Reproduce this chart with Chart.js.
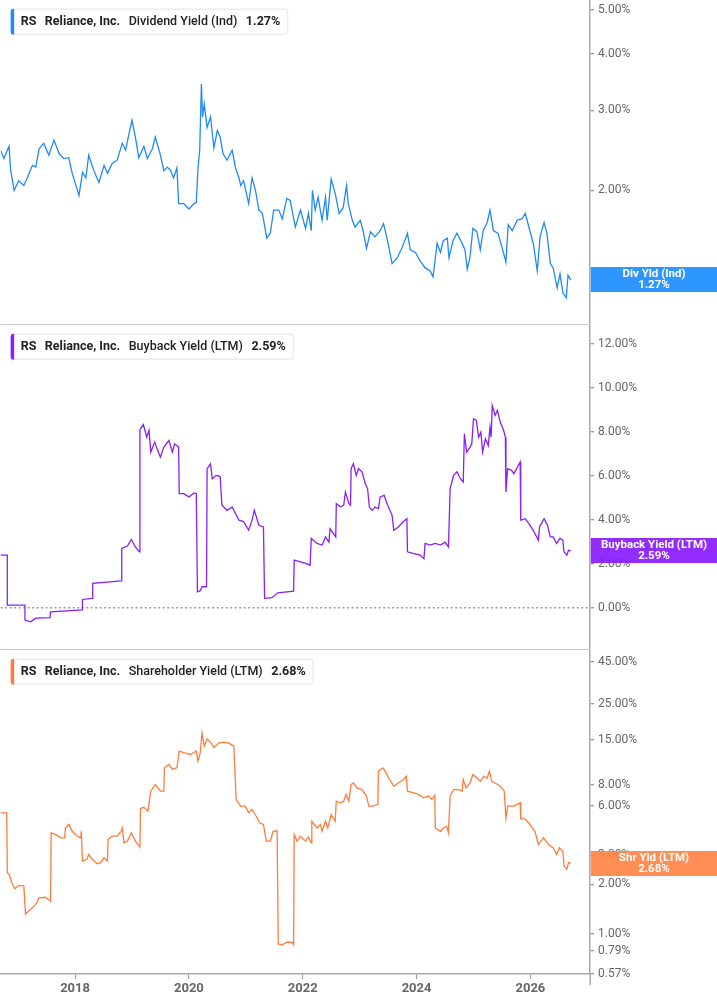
<!DOCTYPE html>
<html>
<head>
<meta charset="utf-8">
<script src="https://cdn.jsdelivr.net/npm/chart.js@4.4.1/dist/chart.umd.min.js"></script>
<style>
html,body{margin:0;padding:0;background:#fff;width:717px;height:1005px;overflow:hidden;}
.p{position:absolute;left:0;width:717px;}
canvas{display:block;}
</style>
</head>
<body>
<div class="p" style="top:0;height:325px"><canvas id="c1" width="717" height="325"></canvas></div>
<div class="p" style="top:325px;height:325px"><canvas id="c2" width="717" height="325"></canvas></div>
<div class="p" style="top:650px;height:355px"><canvas id="c3" width="717" height="355"></canvas></div>
<script>
// ---------- DATA (time in decimal years, values in %) ----------
const ticker = 'RS';
const company = 'Reliance, Inc.';
const seriesNames = ['Dividend Yield (Ind)', 'Buyback Yield (LTM)', 'Shareholder Yield (LTM)'];
const boxNames = ['Div Yld (Ind)', 'Buyback Yield (LTM)', 'Shr Yld (LTM)'];

const xTicks = [2018, 2020, 2022, 2024, 2026];
const divTicks = [2, 3, 4, 5];
const bbTicks = [0, 2, 4, 6, 8, 10, 12];
const shTicks = [0.57, 0.79, 1, 2, 3, 6, 8, 15, 25, 45];

const divTime = [2016.69,2016.75,2016.84,2016.87,2016.93,2017.01,2017.10,2017.16,2017.25,2017.31,2017.37,2017.45,2017.54,2017.63,2017.72,2017.80,2017.89,2017.95,2018.07,2018.13,2018.19,2018.24,2018.33,2018.42,2018.51,2018.57,2018.65,2018.74,2018.83,2018.89,2018.94,2019.00,2019.06,2019.12,2019.21,2019.27,2019.36,2019.41,2019.50,2019.56,2019.62,2019.68,2019.73,2019.79,2019.82,2019.91,2020.00,2020.09,2020.13,2020.16,2020.19,2020.22,2020.24,2020.27,2020.32,2020.38,2020.44,2020.50,2020.55,2020.60,2020.67,2020.76,2020.82,2020.88,2020.91,2020.96,2021.05,2021.11,2021.17,2021.23,2021.29,2021.37,2021.43,2021.49,2021.58,2021.64,2021.72,2021.78,2021.87,2021.96,2022.05,2022.10,2022.15,2022.17,2022.22,2022.27,2022.34,2022.40,2022.43,2022.50,2022.57,2022.64,2022.71,2022.77,2022.80,2022.87,2022.92,2023.01,2023.06,2023.12,2023.19,2023.27,2023.36,2023.42,2023.49,2023.57,2023.66,2023.75,2023.84,2023.89,2023.98,2024.06,2024.15,2024.24,2024.29,2024.36,2024.42,2024.47,2024.54,2024.57,2024.64,2024.71,2024.80,2024.85,2024.89,2024.94,2024.99,2025.06,2025.12,2025.17,2025.24,2025.29,2025.35,2025.43,2025.50,2025.57,2025.61,2025.68,2025.77,2025.85,2025.91,2025.99,2026.05,2026.12,2026.17,2026.24,2026.29,2026.35,2026.40,2026.47,2026.52,2026.57,2026.63,2026.66,2026.71];
const divYield = [2.45,2.35,2.50,2.21,2.00,2.10,2.05,2.13,2.27,2.25,2.47,2.54,2.39,2.58,2.41,2.35,2.36,2.18,1.95,2.19,2.13,2.39,2.21,2.08,2.27,2.18,2.29,2.33,2.54,2.45,2.64,2.85,2.62,2.36,2.50,2.35,2.47,2.62,2.39,2.21,2.25,2.21,2.13,2.24,1.87,1.87,1.82,1.87,1.88,2.24,2.45,3.43,2.90,3.10,2.75,2.90,2.48,2.71,2.62,2.41,2.33,2.45,2.24,2.13,2.05,2.10,1.87,2.13,2.00,1.81,1.78,1.57,1.61,1.81,1.81,1.73,1.92,1.90,1.66,1.81,1.65,1.78,1.63,2.00,1.81,1.93,1.72,1.93,1.72,2.12,1.97,1.78,1.83,2.05,1.87,1.72,1.66,1.72,1.63,1.49,1.62,1.58,1.63,1.69,1.55,1.38,1.42,1.50,1.61,1.48,1.46,1.40,1.35,1.33,1.29,1.53,1.46,1.55,1.57,1.42,1.55,1.61,1.53,1.48,1.34,1.43,1.65,1.62,1.48,1.63,1.70,1.81,1.63,1.61,1.50,1.39,1.68,1.63,1.72,1.73,1.78,1.63,1.53,1.33,1.58,1.70,1.61,1.38,1.35,1.22,1.31,1.19,1.16,1.30,1.27];

const bbTime = [2016.69,2016.81,2016.81,2017.12,2017.12,2017.22,2017.31,2017.56,2017.57,2018.13,2018.13,2018.30,2018.31,2018.81,2018.82,2018.92,2018.99,2019.06,2019.13,2019.14,2019.20,2019.26,2019.30,2019.33,2019.40,2019.44,2019.50,2019.56,2019.65,2019.71,2019.75,2019.82,2019.83,2019.91,2020.00,2020.09,2020.13,2020.15,2020.20,2020.23,2020.31,2020.32,2020.38,2020.41,2020.47,2020.51,2020.55,2020.58,2020.67,2020.76,2020.82,2020.88,2020.96,2021.05,2021.11,2021.15,2021.23,2021.31,2021.33,2021.46,2021.56,2021.84,2021.85,2021.93,2022.05,2022.13,2022.15,2022.25,2022.34,2022.40,2022.46,2022.48,2022.54,2022.58,2022.59,2022.66,2022.72,2022.75,2022.81,2022.84,2022.85,2022.89,2022.94,2022.98,2023.04,2023.10,2023.14,2023.17,2023.22,2023.27,2023.33,2023.36,2023.43,2023.48,2023.57,2023.60,2023.68,2023.77,2023.83,2023.84,2023.95,2024.06,2024.13,2024.15,2024.24,2024.33,2024.42,2024.50,2024.56,2024.59,2024.65,2024.71,2024.77,2024.82,2024.84,2024.88,2024.94,2024.97,2025.00,2025.05,2025.09,2025.13,2025.16,2025.21,2025.26,2025.29,2025.31,2025.33,2025.38,2025.42,2025.47,2025.53,2025.56,2025.57,2025.60,2025.67,2025.71,2025.79,2025.82,2025.83,2025.91,2025.97,2026.05,2026.11,2026.14,2026.16,2026.24,2026.30,2026.35,2026.40,2026.46,2026.52,2026.57,2026.59,2026.64,2026.67,2026.71];
const bbYield = [2.39,2.39,0.11,0.11,-0.57,-0.65,-0.48,-0.46,-0.19,-0.11,0.37,0.42,1.10,1.22,2.69,2.80,3.10,2.76,2.54,8.10,8.34,7.76,8.07,7.08,7.54,7.24,6.85,7.31,7.61,7.08,7.46,7.31,5.19,5.19,5.04,5.22,5.19,0.72,0.77,0.95,0.95,6.33,6.55,5.87,6.00,6.02,5.94,4.66,4.43,4.58,4.28,3.98,3.92,3.52,3.98,4.43,3.75,3.67,0.42,0.45,0.67,0.75,2.16,2.11,2.01,1.93,3.15,2.92,2.85,3.22,2.98,3.60,3.37,3.22,4.74,4.59,4.66,5.26,4.74,4.66,6.33,6.55,6.02,6.33,6.18,5.64,5.41,4.58,4.43,4.58,4.50,5.04,5.11,4.74,4.20,3.52,3.67,3.92,4.05,2.54,2.46,2.39,2.23,2.92,2.85,2.92,2.85,2.98,2.76,5.42,6.02,6.18,5.87,5.72,7.92,7.08,7.31,7.46,8.60,8.52,7.76,7.99,7.08,7.68,7.38,8.22,7.76,9.20,8.75,8.98,8.45,8.07,7.76,5.26,6.33,6.25,6.10,6.48,6.63,3.98,4.05,3.83,3.52,3.22,3.07,3.67,4.05,3.75,3.22,3.22,2.92,3.15,3.07,2.54,2.39,2.61,2.59];

const shTime = [2016.69,2016.80,2016.81,2016.84,2016.90,2016.94,2017.01,2017.10,2017.13,2017.22,2017.31,2017.37,2017.42,2017.48,2017.57,2017.58,2017.66,2017.75,2017.82,2017.83,2017.89,2017.95,2018.04,2018.10,2018.11,2018.13,2018.21,2018.24,2018.30,2018.39,2018.45,2018.51,2018.57,2018.58,2018.65,2018.74,2018.81,2018.83,2018.86,2018.92,2018.99,2019.06,2019.14,2019.15,2019.21,2019.28,2019.33,2019.41,2019.50,2019.56,2019.57,2019.65,2019.71,2019.79,2019.83,2019.91,2020.03,2020.13,2020.16,2020.20,2020.23,2020.27,2020.32,2020.38,2020.44,2020.52,2020.61,2020.70,2020.79,2020.83,2020.91,2020.99,2021.05,2021.11,2021.20,2021.24,2021.31,2021.36,2021.43,2021.48,2021.55,2021.57,2021.64,2021.72,2021.81,2021.84,2021.85,2021.90,2021.96,2022.05,2022.10,2022.15,2022.16,2022.25,2022.31,2022.34,2022.40,2022.44,2022.50,2022.57,2022.59,2022.66,2022.72,2022.76,2022.81,2022.85,2022.89,2022.95,2023.04,2023.12,2023.16,2023.22,2023.32,2023.33,2023.41,2023.45,2023.51,2023.60,2023.68,2023.77,2023.82,2023.84,2023.95,2024.03,2024.12,2024.21,2024.27,2024.32,2024.33,2024.42,2024.47,2024.53,2024.56,2024.59,2024.65,2024.74,2024.80,2024.82,2024.87,2024.94,2024.99,2025.06,2025.12,2025.18,2025.24,2025.28,2025.32,2025.38,2025.47,2025.54,2025.57,2025.60,2025.70,2025.76,2025.82,2025.83,2025.91,2025.99,2026.08,2026.14,2026.23,2026.32,2026.40,2026.46,2026.51,2026.57,2026.59,2026.64,2026.67,2026.71];
const shYield = [5.44,5.44,2.35,2.30,2.00,1.88,1.97,1.96,1.32,1.41,1.51,1.66,1.66,1.67,1.58,4.11,4.01,3.83,3.83,4.40,4.62,4.20,3.92,3.83,4.20,2.77,2.84,3.04,2.84,2.67,2.71,2.90,2.77,3.74,3.92,3.92,4.20,4.40,3.57,3.66,4.11,3.66,3.37,5.77,5.87,5.56,7.36,8.07,7.36,7.36,10.2,10.7,10.0,10.2,12.9,12.6,12.3,12.9,11.2,12.6,16.6,13.8,15.3,14.6,13.5,14.4,14.6,14.4,13.8,6.55,5.97,5.97,5.44,5.70,5.06,4.73,4.62,3.66,3.66,4.20,4.23,0.87,0.86,0.89,0.89,0.86,4.02,3.66,3.92,3.66,3.87,3.57,4.84,4.40,4.62,4.20,4.84,4.40,5.30,4.84,6.40,6.25,6.40,7.03,6.40,8.07,8.25,7.70,7.53,6.87,5.97,5.97,6.10,9.73,10.2,9.73,8.85,7.89,8.25,8.65,9.07,7.36,7.19,7.03,6.71,6.87,6.55,6.95,4.40,4.20,4.40,4.50,4.11,6.87,7.53,7.53,7.36,8.65,7.70,8.25,9.30,8.85,8.45,9.07,8.85,9.73,8.45,8.25,7.89,7.36,5.06,5.97,5.97,6.10,6.25,5.00,5.00,4.62,4.20,3.49,3.83,3.49,3.33,3.04,3.33,3.18,2.58,2.47,2.71,2.68];

// ---------- LAYOUT / STYLE ----------
const X_MIN = 2016.693, X_MAX = 2027.047;
const FONT = 'Roboto, "Noto Sans", "Liberation Sans", sans-serif';
Chart.defaults.font.family = FONT;

function overlayPlugin(o) {
  return {
    id: 'overlay',
    afterDraw(chart) {
      const ctx = chart.ctx, a = chart.chartArea, W = chart.width;
      ctx.save();
      if (o.sepBottom) {
        ctx.strokeStyle = '#c9c9c9'; ctx.lineWidth = 1.2;
        ctx.beginPath(); ctx.moveTo(a.left, a.bottom + 0.5); ctx.lineTo(a.right, a.bottom + 0.5); ctx.stroke();
      }
      if (o.extendAxis) {
        ctx.strokeStyle = '#aaaaaa'; ctx.lineWidth = 1.5;
        ctx.beginPath(); ctx.moveTo(a.right + 0.25, a.bottom); ctx.lineTo(a.right + 0.25, a.bottom + 11); ctx.stroke();
      }
      const last = o.values[o.values.length - 1];
      const valTxt = last.toFixed(2) + '%';
      const py = chart.scales.y.getPixelForValue(last);
      const bh = 25, top = Math.round(py - 12.5);
      ctx.globalAlpha = 0.93;
      ctx.fillStyle = o.box;
      ctx.fillRect(a.right + 0.75, top, W - a.right, bh);
      ctx.globalAlpha = 1;
      ctx.fillStyle = '#ffffff';
      ctx.font = 'bold 11.5px ' + FONT;
      ctx.textAlign = 'center'; ctx.textBaseline = 'middle';
      const cx = (a.right + W) / 2 + 0.5;
      ctx.fillText(o.boxName, cx, top + 7.5);
      ctx.fillText(valTxt, cx, top + 18.5);
      const parts = [[ticker, 'bold'], [company, 'bold'], [o.name, '500'], [valTxt, 'bold']];
      const size = 12.5, gap = 8.5;
      const widths = parts.map(p => { ctx.font = p[1] + ' ' + size + 'px ' + FONT; return ctx.measureText(p[0]).width; });
      const total = widths.reduce((s, w) => s + w, 0) + gap * (parts.length - 1);
      const bx = a.left + 10, by = a.top + 8, bw = total + 17, lh = 25;
      ctx.fillStyle = '#ffffff'; ctx.strokeStyle = '#e4e4e4'; ctx.lineWidth = 1;
      ctx.beginPath(); ctx.roundRect(bx + 0.5, by + 0.5, bw, lh, 3); ctx.fill(); ctx.stroke();
      ctx.fillStyle = o.line;
      ctx.beginPath(); ctx.roundRect(bx, by, 3.5, lh + 1, [3, 0, 0, 3]); ctx.fill();
      ctx.textAlign = 'left'; ctx.textBaseline = 'middle'; ctx.fillStyle = '#222222';
      let x = bx + 10;
      parts.forEach((p, i) => {
        ctx.font = p[1] + ' ' + size + 'px ' + FONT;
        ctx.fillText(p[0], x, by + lh / 2 + 1);
        x += widths[i] + gap;
      });
      ctx.restore();
    }
  };
}

function makeChart(id, o) {
  return new Chart(document.getElementById(id), {
    type: 'line',
    data: {
      datasets: [{
        data: o.time.map((t, i) => ({ x: t, y: o.values[i] })),
        borderColor: o.line,
        borderWidth: 1.3,
        pointRadius: 0,
        tension: 0,
        fill: false
      }]
    },
    options: {
      responsive: false,
      animation: false,
      events: [],
      layout: { padding: { left: 0, right: 0, top: 0, bottom: o.showX ? 0 : 1 } },
      plugins: { legend: { display: false }, tooltip: { enabled: false } },
      scales: {
        x: {
          type: 'linear', min: X_MIN, max: X_MAX, display: o.showX,
          afterBuildTicks: ax => { ax.ticks = xTicks.map(v => ({ value: v })); },
          afterFit: ax => { if (o.showX) { ax.height = 31; } ax.paddingLeft = 0; ax.paddingRight = 0; },
          grid: { drawOnChartArea: false, tickLength: 5, tickColor: '#9a9a9a', tickWidth: 1 },
          border: { display: true, color: '#aaaaaa', width: 1.5 },
          ticks: { color: '#666666', font: { size: 13, weight: 'bold' }, padding: 2, autoSkip: false, maxRotation: 0, callback: v => String(v) }
        },
        y: {
          type: o.yType, position: 'right', min: o.min, max: o.max,
          afterBuildTicks: ax => { ax.ticks = o.ticks.map(v => ({ value: v })); },
          afterFit: ax => { ax.width = 127; ax.paddingTop = 0; ax.paddingBottom = 0; },
          grid: {
            drawOnChartArea: !!o.zeroLine,
            color: c => (o.zeroLine && c.tick && c.tick.value === 0) ? '#9d9d9d' : 'rgba(0,0,0,0)',
            lineWidth: 1.5,
            tickLength: 4, tickColor: '#777777', tickWidth: 1
          },
          border: { display: true, color: '#aaaaaa', width: 1.5, dash: o.zeroLine ? [2, 2.5] : [] },
          ticks: { color: '#666666', font: { size: 12 }, padding: 4, autoSkip: false, callback: v => Number(v).toFixed(2) + '%' }
        }
      }
    },
    plugins: [overlayPlugin(o)]
  });
}

const charts = [
  makeChart('c1', { time: divTime, values: divYield, line: '#1f8af5', box: '#1e8fff', name: seriesNames[0], boxName: boxNames[0],
    yType: 'logarithmic', min: 1.016, max: 5.23, ticks: divTicks, showX: false, sepBottom: true }),
  makeChart('c2', { time: bbTime, values: bbYield, line: '#8a1ff7', box: '#8b1cff', name: seriesNames[1], boxName: boxNames[1],
    yType: 'linear', min: -1.886, max: 12.84, ticks: bbTicks, showX: false, sepBottom: true, zeroLine: true }),
  makeChart('c3', { time: shTime, values: shYield, line: '#ff7c3c', box: '#ff8447', name: seriesNames[2], boxName: boxNames[2],
    yType: 'logarithmic', min: 0.571, max: 52.5, ticks: shTicks, showX: true, extendAxis: true })
];
if (document.fonts && document.fonts.ready) {
  document.fonts.ready.then(() => charts.forEach(c => c.update()));
}
</script>
</body>
</html>
